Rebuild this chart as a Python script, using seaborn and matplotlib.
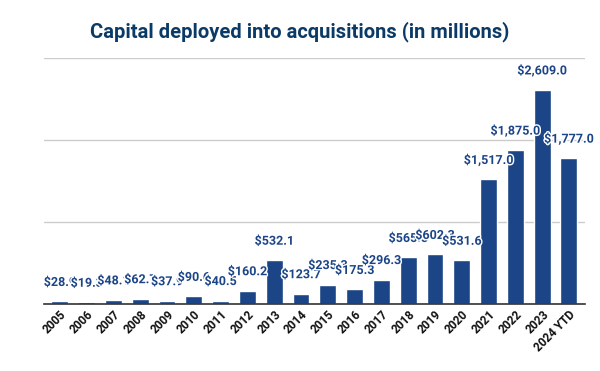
import matplotlib
matplotlib.use("Agg")
import matplotlib.pyplot as plt
import matplotlib.patheffects as pe
import seaborn as sns
import pandas as pd

years = ["2005", "2006", "2007", "2008", "2009", "2010", "2011", "2012", "2013", "2014",
         "2015", "2016", "2017", "2018", "2019", "2020", "2021", "2022", "2023", "2024 YTD"]
capital = [28.9, 19.3, 48.1, 62.7, 37.9, 90.6, 40.5, 160.2, 532.1, 123.7,
           235.3, 175.3, 296.3, 565.5, 602.3, 531.6, 1517.0, 1875.0, 2609.0, 1777.0]

df = pd.DataFrame({"year": years, "capital": capital})

sns.set_style("white")
plt.rcParams["font.family"] = ["Roboto", "DejaVu Sans"]

fig = plt.figure(figsize=(6, 3.71), dpi=100)
ax = fig.add_axes([0.073, 0.181, 0.902, 0.663])

bar_color = "#1c4587"
sns.barplot(data=df, x="year", y="capital", color=bar_color, width=0.63,
            saturation=1, ax=ax, zorder=2)

ax.set_ylim(0, 3000)
ax.set_yticks([0, 1000, 2000, 3000])
ax.set_yticklabels([])
ax.tick_params(axis="y", length=0)
ax.grid(axis="y", color="#cccccc", linewidth=1, zorder=0)
ax.set_xlabel("")
ax.set_ylabel("")
for s in ["top", "right", "left"]:
    ax.spines[s].set_visible(False)
ax.spines["bottom"].set_color("#333333")
ax.spines["bottom"].set_linewidth(1.2)
ax.set_xlim(-0.6, len(years) - 0.4)

ax.set_xticks(range(len(years)))
ax.set_xticklabels(years, rotation=45, ha="right", rotation_mode="anchor",
                   fontsize=8.5, fontweight="bold", color="#111111")
ax.tick_params(axis="x", length=0, pad=3)

# value labels sit above each bar, overlapping like the original
for i, v in enumerate(capital):
    ax.annotate(f"${v:,.1f}", (i, v), xytext=(0, 9), textcoords="offset points",
                ha="center", va="bottom", fontsize=9, fontweight="bold",
                color=bar_color, zorder=3,
                path_effects=[pe.withStroke(linewidth=2, foreground="white")])

fig.text(0.5, 0.915, "Capital deployed into acquisitions (in millions)",
         ha="center", va="center", fontsize=14.5, fontweight="bold", color="#0b3a66")

fig.savefig("out.png", dpi=100)
